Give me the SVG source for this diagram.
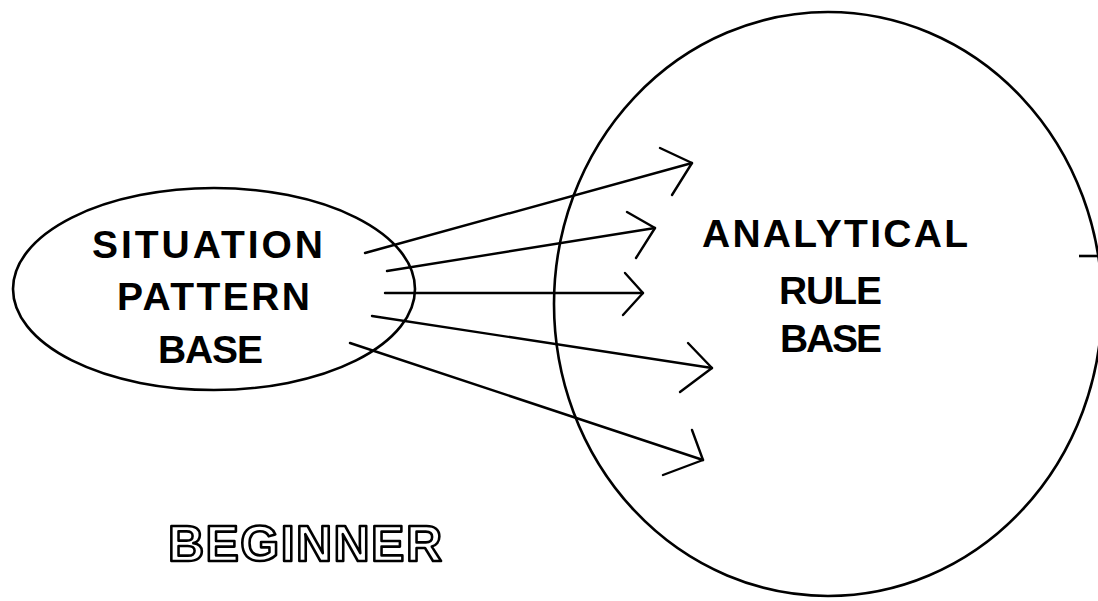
<svg xmlns="http://www.w3.org/2000/svg" width="1098" height="601" viewBox="0 0 1098 601">
<style>
.shape{fill:none;stroke:#000;stroke-width:2.6}
.conn{fill:none;stroke:#000;stroke-width:2.4;stroke-linecap:round;stroke-linejoin:round}
.lbl{font-family:"Liberation Sans",Arial,sans-serif;font-weight:bold;font-size:39px;fill:#000}
.title{font-family:"Liberation Sans",Arial,sans-serif;font-weight:bold;font-size:50px;fill:#fff;stroke:#000;stroke-width:2.6;stroke-linejoin:round}
</style>
<rect width="1098" height="601" fill="#fff"/>
<g id="rule-base">
<ellipse class="shape" cx="828" cy="304" rx="274" ry="292"/>
<line class="shape" x1="1079" y1="256" x2="1098" y2="256"/>
<text class="lbl" x="702" y="247" textLength="266" lengthAdjust="spacing">ANALYTICAL</text>
<text class="lbl" x="779" y="304" textLength="103" lengthAdjust="spacing">RULE</text>
<text class="lbl" x="780" y="352" textLength="102" lengthAdjust="spacing">BASE</text>
</g>
<g id="pattern-base">
<ellipse class="shape" cx="214" cy="289" rx="201" ry="101"/>
<text class="lbl" x="92" y="258" textLength="231" lengthAdjust="spacing">SITUATION</text>
<text class="lbl" x="117" y="310" textLength="193" lengthAdjust="spacing">PATTERN</text>
<text class="lbl" x="158" y="363" textLength="105" lengthAdjust="spacing">BASE</text>
</g>
<g id="connectors">
<line class="conn" x1="365" y1="253" x2="692" y2="163"/>
<polyline class="conn" points="660,148 692,163 672,195"/>
<line class="conn" x1="387" y1="271" x2="655" y2="228"/>
<polyline class="conn" points="627,212 655,228 636,258"/>
<line class="conn" x1="385" y1="293" x2="643" y2="293"/>
<polyline class="conn" points="625,273 643,293 623,315"/>
<line class="conn" x1="372" y1="316" x2="712" y2="368"/>
<polyline class="conn" points="688,343 712,368 680,392"/>
<line class="conn" x1="350" y1="343" x2="703" y2="460"/>
<polyline class="conn" points="692,430 703,460 663,475"/>
</g>
<g id="beginner">
<text class="title" x="168" y="561" textLength="274" lengthAdjust="spacing">BEGINNER</text>
</g>
</svg>
